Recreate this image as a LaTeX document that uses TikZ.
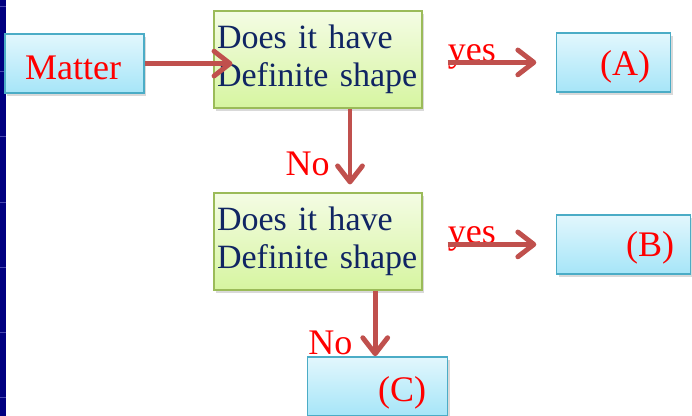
\documentclass[tikz,border=0pt]{standalone}
\usepackage{fontspec}
\setmainfont{Liberation Serif}
\usetikzlibrary{arrows.meta,shadows}

\definecolor{stripblue}{RGB}{0,0,128}
\definecolor{stripline}{RGB}{70,70,175}
\definecolor{boxblue}{RGB}{75,172,198}
\definecolor{boxgreen}{RGB}{155,187,89}
\definecolor{flowred}{RGB}{192,80,77}
\definecolor{asknavy}{RGB}{16,37,99}

\begin{document}
\begin{tikzpicture}[
  answer/.style={draw=boxblue, line width=1pt, top color={rgb,255:red,226;green,247;blue,253},
    bottom color={rgb,255:red,166;green,229;blue,248}, minimum height=1.475cm,
    drop shadow={shadow xshift=0.06cm, shadow yshift=-0.08cm, opacity=0.3},
    font=\fontsize{25.6}{28}\selectfont, text=red},
  question/.style={draw=boxgreen, line width=1pt, top color={rgb,255:red,244;green,252;blue,228},
    bottom color={rgb,255:red,214;green,245;blue,160}, minimum height=2.425cm,
    text width=5.05cm, inner xsep=0.075cm, align=left,
    drop shadow={shadow xshift=0.06cm, shadow yshift=-0.08cm, opacity=0.3},
    font=\fontsize{24.2}{27}\selectfont, text=asknavy},
  flow/.style={draw=flowred, line width=3.5pt, -{Straight Barb[length=0.4cm, width=0.62cm, round]}},
  tag/.style={text=red, font=\fontsize{25.6}{28}\selectfont, inner sep=0pt}
]

  \useasboundingbox (0,0) rectangle (17.3,-10.4);

  \fill[stripblue] (0,0) rectangle (0.15,-10.4);
  \foreach \y in {0.16,1.79,3.42,5.05,6.68,8.31,9.94}
    \draw[stripline, line width=0.6pt] (0,-\y) -- (0.15,-\y);

  \node[answer, minimum width=3.475cm, label={[tag, xshift=-0.03cm, yshift=-0.1cm]center:Matter}] (matter) at (1.86,-1.59) {};
  \node[question] (ask1) at (7.95,-1.49) {Does it have\\Definite shape};
  \node[answer, minimum width=2.85cm, label={[tag, xshift=0.3cm, yshift=-0.11cm]center:(A)}] (a) at (15.33,-1.56) {};
  \node[question] (ask2) at (7.95,-6.04) {Does it have\\Definite shape};
  \node[answer, minimum width=3.35cm, label={[tag, xshift=0.67cm, yshift=-0.09cm]center:(B)}] (b) at (15.58,-6.11) {};
  \node[answer, minimum width=3.5cm, label={[tag, xshift=0.62cm, yshift=-0.15cm]center:(C)}] (c) at (9.43,-9.66) {};

  \node[tag, anchor=base west] (yes1) at ([xshift=0.62cm, yshift=-0.04cm]ask1.east) {yes};
  \node[tag, anchor=base west] (yes2) at ([xshift=0.62cm, yshift=-0.05cm]ask2.east) {yes};
  \node[tag, anchor=base east] (no1) at (8.25,-4.4) {No};
  \node[tag, anchor=base west] (no2) at (7.7,-8.85) {No};

  \draw[flow] (matter.east) -- ([xshift=0.48cm]ask1.west |- matter.east);
  \draw[flow] ([xshift=0.62cm]ask1.east |- a.west) -- ([xshift=-0.48cm]a.west);
  \draw[flow] ([xshift=0.8cm]ask1.south) -- ([xshift=0.8cm, yshift=0.2cm]ask2.north);
  \draw[flow] ([xshift=0.62cm]ask2.east |- b.west) -- ([xshift=-0.48cm]b.west);
  \draw[flow] ([xshift=1.43cm]ask2.south) -- ([xshift=1.43cm]ask2.south |- c.north);

\end{tikzpicture}
\end{document}
